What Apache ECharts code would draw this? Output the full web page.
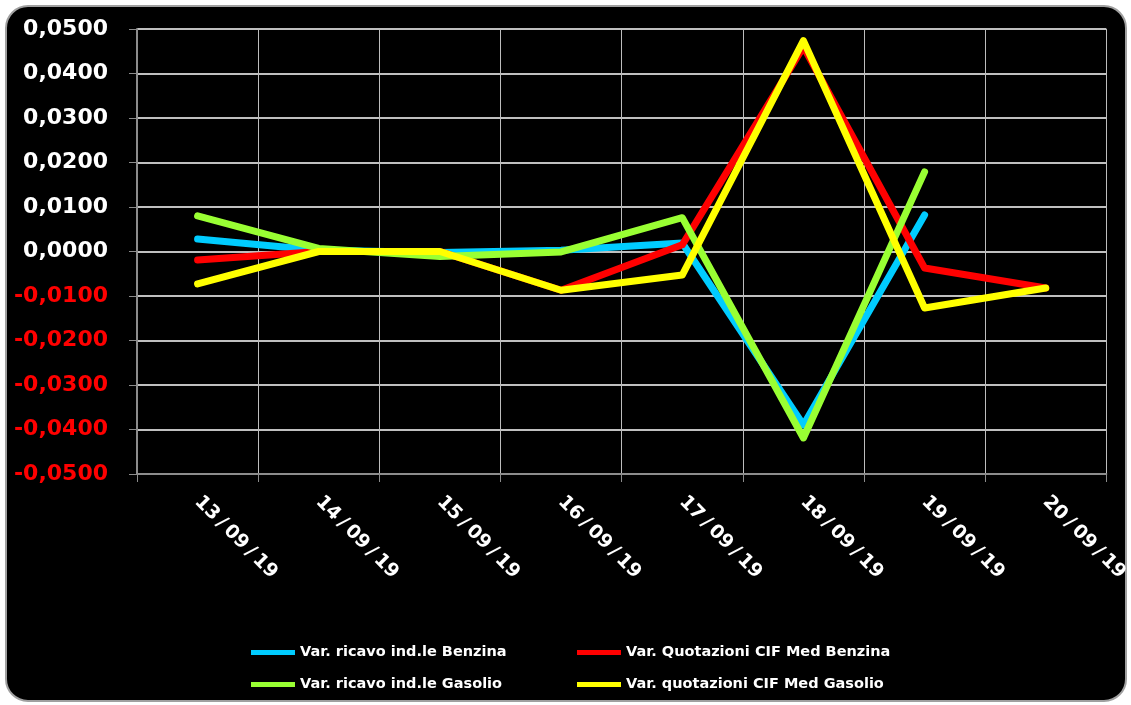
<!DOCTYPE html>
<html>
<head>
<meta charset="utf-8">
<script src="https://cdn.jsdelivr.net/npm/echarts@6/dist/echarts.min.js"></script>
<style>
  html, body { margin: 0; padding: 0; background: #fff; }
  #chart { width: 1131px; height: 705px; }
</style>
</head>
<body>
<div id="chart"></div>
<script>
// date (categorie asse x)
var giorni = ['13/09/19', '14/09/19', '15/09/19', '16/09/19', '17/09/19', '18/09/19', '19/09/19', '20/09/19'];

// serie
var ricavoBenzina = [0.0028, 0.0003, -0.0002, 0.0003, 0.0019, -0.0390, 0.0082, null];
var cifBenzina = [-0.0019, 0.0000, 0.0000, -0.0087, 0.0015, 0.0460, -0.0037, -0.0082];
var ricavoGasolio = [0.0080, 0.0007, -0.0011, -0.0001, 0.0076, -0.0419, 0.0179, null];
var cifGasolio = [-0.0073, 0.0000, 0.0000, -0.0087, -0.0053, 0.0474, -0.0127, -0.0082];

var nomi = [
    'Var. ricavo ind.le Benzina',
    'Var. Quotazioni CIF Med Benzina',
    'Var. ricavo ind.le Gasolio',
    'Var. quotazioni CIF Med Gasolio'
];
var colori = ['#00ccff', '#ff0000', '#99ff33', '#ffff00'];

var chart = echarts.init(document.getElementById('chart'));

//etichette asse y con la virgola
function fmtY(v) {
    if (Math.abs(v) < 1e-9) v = 0;
    return v.toFixed(4).replace('.', ',');
}

//date un po' spaziate come in excel
function fmtX(v) {
    return v.split('/').join('\u2009/\u2009');
}

function serie(nome, dati, colore) {
    return {
        name: nome,
        type: 'line',
        data: dati,
        showSymbol: false,
        symbol: 'none',
        connectNulls: false,
        lineStyle: { width: 7, color: colore, cap: 'round', join: 'round' },
        itemStyle: { color: colore }
    };
}

var legendaTesto = {
    color: '#fff',
    fontFamily: 'DejaVu Sans',
    fontSize: 14.5,
    fontWeight: 'bold'
};

var option = {
    backgroundColor: '#fff',
    animation: false,
    graphic: [{
        type: 'rect',
        z: -10,
        shape: { x: 6, y: 6, width: 1120, height: 695, r: 22 },
        style: { fill: '#000', stroke: '#a0a0a0', lineWidth: 2 }
    }],
    legend: [{
        orient: 'vertical',
        left: 251,
        top: 645,
        padding: 0,
        itemWidth: 44,
        itemHeight: 5,
        itemGap: 17,
        icon: 'rect',
        data: [nomi[0], nomi[2]],
        textStyle: legendaTesto
    }, {
        orient: 'vertical',
        left: 577,
        top: 645,
        padding: 0,
        itemWidth: 44,
        itemHeight: 5,
        itemGap: 17,
        icon: 'rect',
        data: [nomi[1], nomi[3]],
        textStyle: legendaTesto
    }],
    grid: { left: 137, right: 21, top: 29, bottom: 231, containLabel: false },
    xAxis: {
        type: 'category',
        data: giorni,
        boundaryGap: true,
        axisLine: { onZero: false, lineStyle: { color: '#8c8c8c', width: 2 } },
        axisTick: { show: true, length: 8, lineStyle: { color: '#8c8c8c' } },
        splitLine: { show: true, lineStyle: { color: '#bdbdbd', width: 1 } },
        axisLabel: {
            rotate: -45,
            margin: 25,
            color: '#fff',
            fontFamily: 'DejaVu Sans',
            fontWeight: 'bold',
            fontSize: 19,
            interval: 0,
            formatter: fmtX
        }
    },
    yAxis: {
        type: 'value',
        min: -0.05,
        max: 0.05,
        interval: 0.01,
        axisLine: { show: true, lineStyle: { color: '#8c8c8c', width: 2 } },
        axisTick: { show: true, length: 8, lineStyle: { color: '#8c8c8c' } },
        splitLine: { show: true, lineStyle: { color: '#ffffff', width: 1.5 } },
        axisLabel: {
            margin: 29,
            fontFamily: 'DejaVu Sans',
            fontWeight: 'bold',
            fontSize: 22,
            formatter: fmtY,
            color: function (v) {
                return Number(v) < -1e-9 ? '#ff0000' : '#ffffff';
            }
        }
    },
    series: [
        serie(nomi[0], ricavoBenzina, colori[0]),
        serie(nomi[1], cifBenzina, colori[1]),
        serie(nomi[2], ricavoGasolio, colori[2]),
        serie(nomi[3], cifGasolio, colori[3])
    ]
};

chart.setOption(option);
</script>
</body>
</html>
